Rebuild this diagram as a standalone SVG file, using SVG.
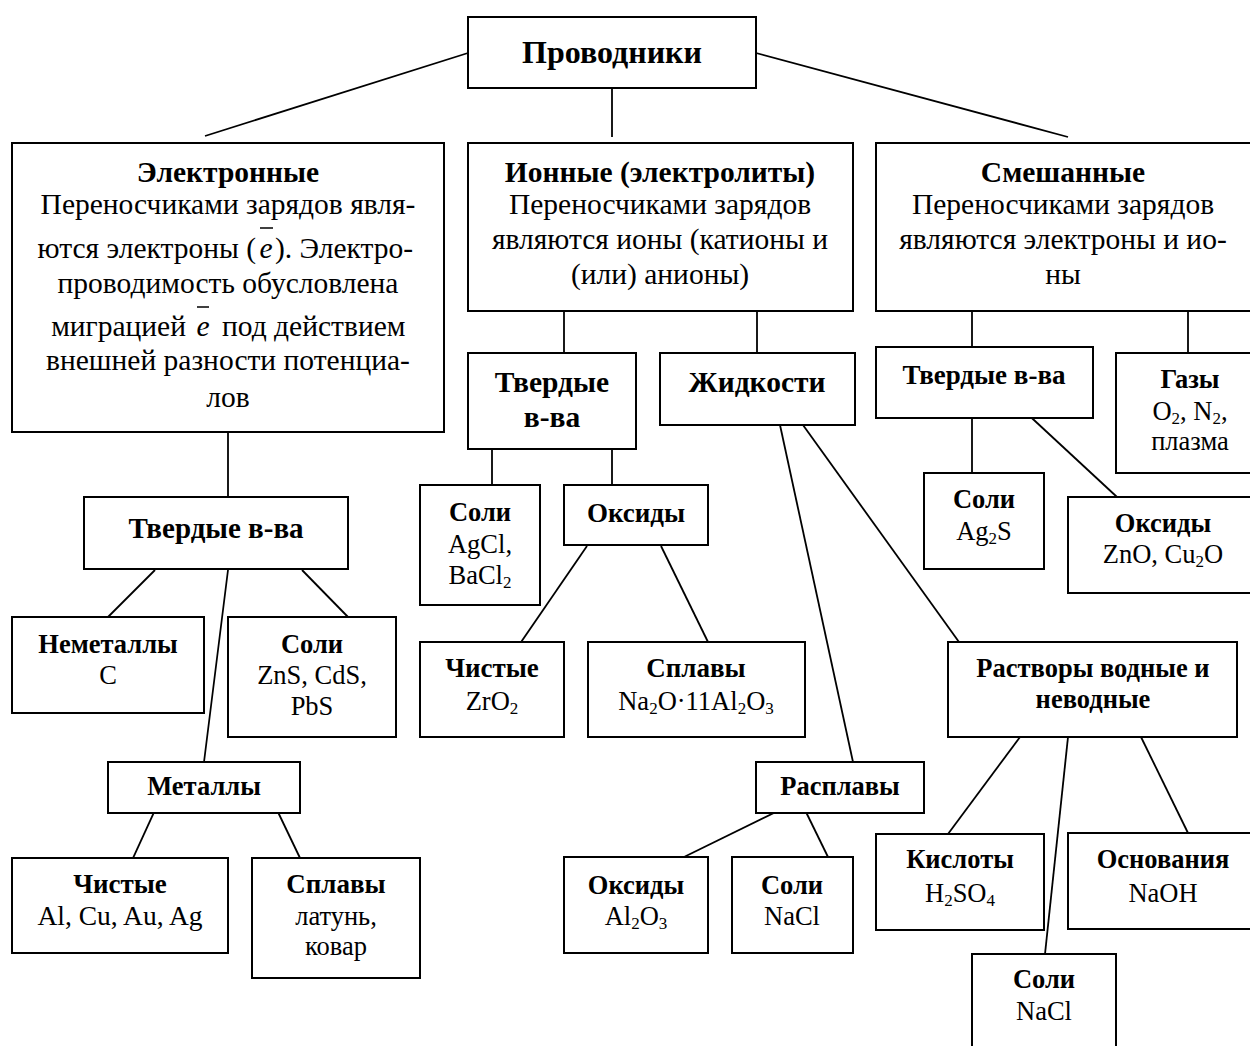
<svg xmlns="http://www.w3.org/2000/svg" width="1250" height="1046" viewBox="0 0 1250 1046">
<style>
.b{fill:#fff;stroke:#000;stroke-width:2}
text{font-family:"Liberation Serif","Times New Roman",serif;font-size:26.5px;text-anchor:middle;fill:#000}
.h{font-weight:bold}
.L{font-size:29.5px}
.st{text-anchor:start}
.en{text-anchor:end}
.c line{stroke:#000;stroke-width:1.8}
.s{font-size:17px}
.ov{stroke:#000;stroke-width:1.5}
</style>
<rect width="1250" height="1046" fill="#fff"/>
<g class="c" id="connectors">
<line x1="468" y1="53" x2="205" y2="136"/>
<line x1="756" y1="53" x2="1068" y2="137"/>
<line x1="612" y1="88" x2="612" y2="137"/>
<line x1="228" y1="432" x2="228" y2="497"/>
<line x1="155" y1="570" x2="108" y2="617"/>
<line x1="302" y1="570" x2="348" y2="617"/>
<line x1="228" y1="570" x2="204" y2="762"/>
<line x1="155" y1="810" x2="133" y2="858"/>
<line x1="277" y1="810" x2="300" y2="858"/>
<line x1="564" y1="311" x2="564" y2="353"/>
<line x1="757" y1="311" x2="757" y2="353"/>
<line x1="492" y1="449" x2="492" y2="485"/>
<line x1="612" y1="449" x2="612" y2="485"/>
<line x1="587" y1="546" x2="517" y2="648"/>
<line x1="661" y1="546" x2="708" y2="642"/>
<line x1="780" y1="425" x2="853" y2="762"/>
<line x1="803" y1="425" x2="959" y2="642"/>
<line x1="780" y1="810" x2="684" y2="857"/>
<line x1="805" y1="810" x2="828" y2="857"/>
<line x1="1020" y1="737" x2="948" y2="834"/>
<line x1="1068" y1="737" x2="1045" y2="954"/>
<line x1="1141" y1="737" x2="1188" y2="833"/>
<line x1="972" y1="305" x2="972" y2="347"/>
<line x1="1188" y1="311" x2="1188" y2="353"/>
<line x1="972" y1="408" x2="972" y2="473"/>
<line x1="1021" y1="408" x2="1117" y2="497"/>
</g>
<g id="n-provodniki"><rect class="b" x="468" y="17" width="288" height="71"/><text class="h" x="612" y="63" style="font-size:32px">Проводники</text></g>
<g id="n-electronnye"><rect class="b" x="12" y="143" width="432" height="289"/>
<text class="h L" x="228" y="182">Электронные</text>
<text class="L" x="228" y="214">Переносчиками зарядов явля-</text>
<text class="L en" x="256" y="258">ются электроны (</text>
<text class="L" x="266" y="258" font-style="italic">e</text>
<text class="L st" x="275" y="258">). Электро-</text>
<line class="ov" x1="260" y1="228" x2="273" y2="228"/>
<text class="L" x="228" y="293">проводимость обусловлена</text>
<text class="L en" x="186" y="336">миграцией</text>
<text class="L" x="203" y="336" font-style="italic">e</text>
<text class="L st" x="222" y="336">под действием</text>
<line class="ov" x1="197" y1="307" x2="209" y2="307"/>
<text class="L" x="228" y="370">внешней разности потенциа-</text>
<text class="L" x="228" y="407">лов</text>
</g>
<g id="n-ionnye"><rect class="b" x="468" y="143" width="385" height="168"/>
<text class="h L" x="660" y="182">Ионные (электролиты)</text>
<text class="L" x="660" y="214">Переносчиками зарядов</text>
<text class="L" x="660" y="249">являются ионы (катионы и</text>
<text class="L" x="660" y="284">(или) анионы)</text>
</g>
<g id="n-smeshannye"><rect class="b" x="876" y="143" width="375" height="168"/>
<text class="h L" x="1063" y="182">Смешанные</text>
<text class="L" x="1063" y="214">Переносчиками зарядов</text>
<text class="L" x="1063" y="249">являются электроны и ио-</text>
<text class="L" x="1063" y="284">ны</text>
</g>
<g id="n-el-tverdye"><rect class="b" x="84" y="497" width="264" height="72"/><text class="h" x="216" y="538" style="font-size:29px">Твердые в-ва</text></g>
<g id="n-nemetally"><rect class="b" x="12" y="617" width="192" height="96"/><text class="h" x="108" y="653">Неметаллы</text><text x="108" y="684">C</text></g>
<g id="n-el-soli"><rect class="b" x="228" y="617" width="168" height="120"/><text class="h" x="312" y="653">Соли</text><text x="312" y="684">ZnS, CdS,</text><text x="312" y="715">PbS</text></g>
<g id="n-metally"><rect class="b" x="108" y="762" width="192" height="51"/><text class="h" x="204" y="795">Металлы</text></g>
<g id="n-el-chistye"><rect class="b" x="12" y="858" width="216" height="95"/><text class="h" x="120" y="893" style="font-size:27px">Чистые</text><text x="120" y="925" style="font-size:27.5px">Al, Cu, Au, Ag</text></g>
<g id="n-el-splavy"><rect class="b" x="252" y="858" width="168" height="120"/><text class="h" x="336" y="893" style="font-size:27px">Сплавы</text><text x="336" y="925">латунь,</text><text x="336" y="955">ковар</text></g>
<g id="n-io-tverdye"><rect class="b" x="468" y="353" width="168" height="96"/><text class="h L" x="552" y="392">Твердые</text><text class="h L" x="552" y="427">в-ва</text></g>
<g id="n-zhidkosti"><rect class="b" x="660" y="353" width="195" height="72"/><text class="h L" x="757" y="392">Жидкости</text></g>
<g id="n-io-soli"><rect class="b" x="420" y="485" width="120" height="120"/><text class="h" x="480" y="521">Соли</text><text x="480" y="553">AgCl,</text><text x="480" y="584">BaCl<tspan class="s" dy="4">2</tspan></text></g>
<g id="n-io-oksidy"><rect class="b" x="564" y="485" width="144" height="60"/><text class="h" x="636" y="522" style="font-size:27px">Оксиды</text></g>
<g id="n-io-chistye"><rect class="b" x="420" y="642" width="144" height="95"/><text class="h" x="492" y="677" style="font-size:27px">Чистые</text><text x="492" y="710">ZrO<tspan class="s" dy="4">2</tspan></text></g>
<g id="n-io-splavy"><rect class="b" x="588" y="642" width="217" height="95"/><text class="h" x="696" y="677" style="font-size:27px">Сплавы</text><text x="696" y="710">Na<tspan class="s" dy="4">2</tspan><tspan dy="-4">O·11Al</tspan><tspan class="s" dy="4">2</tspan><tspan dy="-4">O</tspan><tspan class="s" dy="4">3</tspan></text></g>
<g id="n-rasplavy"><rect class="b" x="756" y="762" width="168" height="51"/><text class="h" x="840" y="795">Расплавы</text></g>
<g id="n-ra-oksidy"><rect class="b" x="564" y="857" width="144" height="96"/><text class="h" x="636" y="894">Оксиды</text><text x="636" y="925">Al<tspan class="s" dy="4">2</tspan><tspan dy="-4">O</tspan><tspan class="s" dy="4">3</tspan></text></g>
<g id="n-ra-soli"><rect class="b" x="732" y="857" width="121" height="96"/><text class="h" x="792" y="894">Соли</text><text x="792" y="925">NaCl</text></g>
<g id="n-rastvory"><rect class="b" x="948" y="642" width="289" height="95"/><text class="h" x="1093" y="677">Растворы водные и</text><text class="h" x="1093" y="708">неводные</text></g>
<g id="n-kisloty"><rect class="b" x="876" y="834" width="168" height="96"/><text class="h" x="960" y="868">Кислоты</text><text x="960" y="902">H<tspan class="s" dy="4">2</tspan><tspan dy="-4">SO</tspan><tspan class="s" dy="4">4</tspan></text></g>
<g id="n-osnovaniya"><rect class="b" x="1068" y="833" width="184" height="96"/><text class="h" x="1163" y="868">Основания</text><text x="1163" y="902">NaOH</text></g>
<g id="n-rv-soli"><rect class="b" x="972" y="954" width="144" height="100"/><text class="h" x="1044" y="988">Соли</text><text x="1044" y="1020">NaCl</text></g>
<g id="n-sm-tverdye"><rect class="b" x="876" y="347" width="217" height="71"/><text class="h" x="984" y="384" style="font-size:27px">Твердые в-ва</text></g>
<g id="n-gazy"><rect class="b" x="1116" y="353" width="148" height="120"/><text class="h" x="1190" y="388">Газы</text><text x="1190" y="420">O<tspan class="s" dy="4">2</tspan><tspan dy="-4">, N</tspan><tspan class="s" dy="4">2</tspan><tspan dy="-4">,</tspan></text><text x="1190" y="450">плазма</text></g>
<g id="n-sm-soli"><rect class="b" x="924" y="473" width="120" height="96"/><text class="h" x="984" y="508">Соли</text><text x="984" y="540">Ag<tspan class="s" dy="4">2</tspan><tspan dy="-4">S</tspan></text></g>
<g id="n-sm-oksidy"><rect class="b" x="1068" y="497" width="190" height="96"/><text class="h" x="1163" y="532">Оксиды</text><text x="1163" y="563">ZnO, Cu<tspan class="s" dy="4">2</tspan><tspan dy="-4">O</tspan></text></g>
</svg>
